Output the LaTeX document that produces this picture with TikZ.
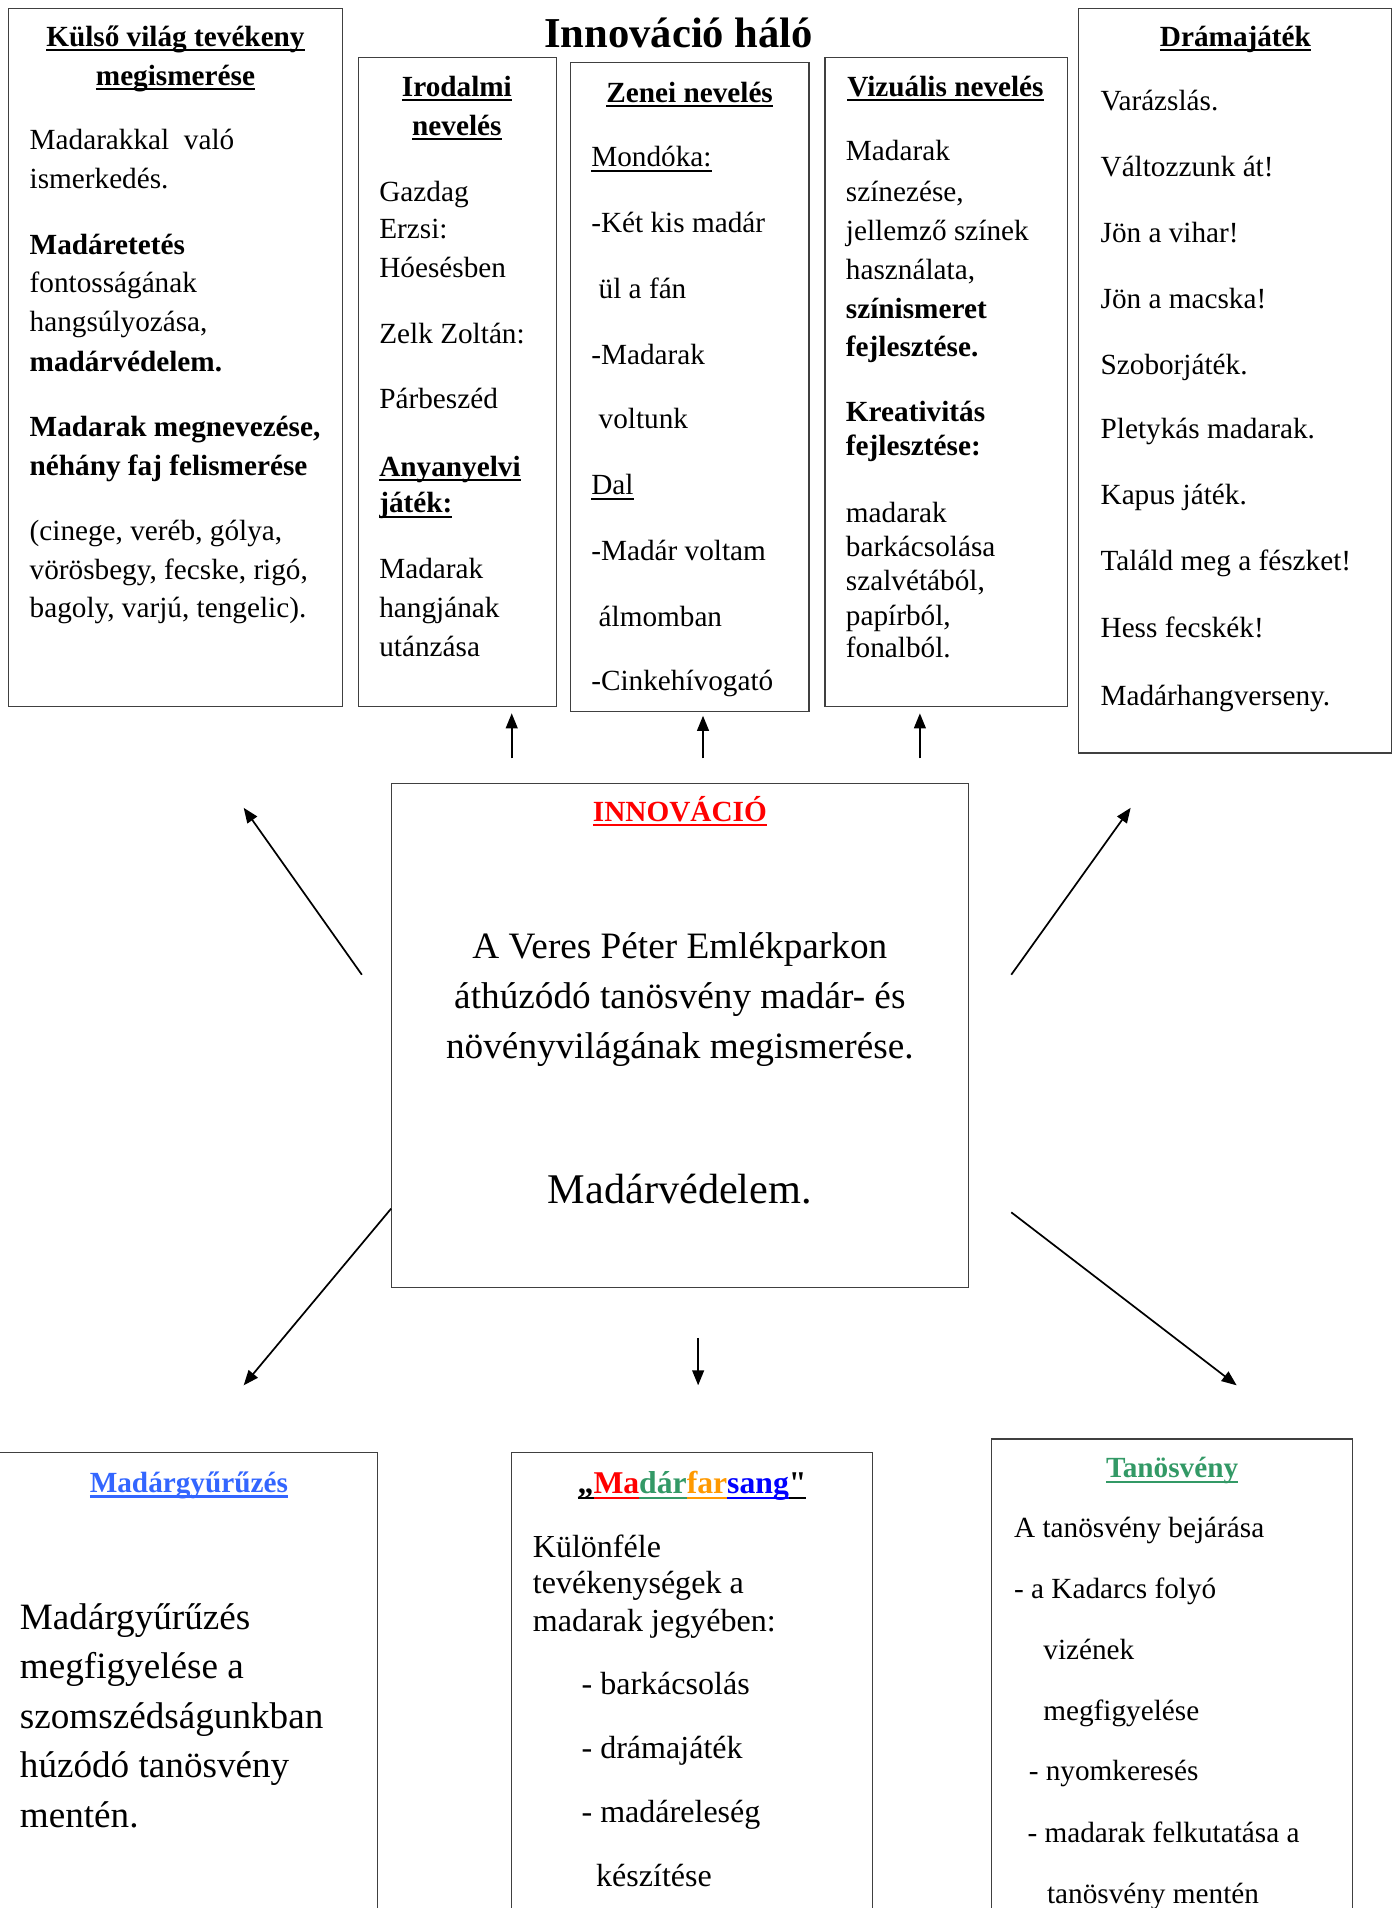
\documentclass[tikz,border=0pt]{standalone}
\usepackage{fontspec}
\setmainfont{Liberation Serif}
\newfontfamily\plainquote{Liberation Serif}[Ligatures=TeXOff]
\usepackage{tikz}
\usetikzlibrary{arrows.meta}
\definecolor{ringblue}{HTML}{3366FF}
\definecolor{trailgreen}{HTML}{339966}
\definecolor{carnorange}{HTML}{FF9900}
\newcommand{\ulx}[2][0.08em]{\setbox0=\hbox{#2}\rlap{\rule[-0.17em]{\wd0}{#1}}\box0}

\begin{document}
\begin{tikzpicture}[x=0.02cm,y=-0.02cm]
\tikzstyle{box}=[rectangle, draw=black!75, line width=0.6pt]
\tikzstyle{body}=[anchor=base west, inner sep=0, font=\fontsize{13.66}{16}\selectfont]
\tikzstyle{hd}=[anchor=base, inner sep=0, font=\fontsize{13.66}{16}\selectfont\bfseries]
\tikzstyle{big}=[anchor=base, inner sep=0, font=\fontsize{17.4}{20}\selectfont]
\tikzstyle{arr}=[-{Triangle[length=7pt,width=5.5pt]}, line width=0.8pt]

\useasboundingbox (0,0) rectangle (1145,1566);
\clip (0,0) rectangle (1145,1566);

\node[anchor=base, inner sep=0, font=\fontsize{19.9}{22}\selectfont\bfseries] (title) at (557,39) {Innováció háló};

% felso dobozok
\node[box, minimum width=5.48cm, minimum height=11.46cm] (kulso) at (144,293.5) {};
\node[box, minimum width=3.26cm, minimum height=10.66cm] (irod) at (375.5,313.5) {};
\node[box, minimum width=3.92cm, minimum height=10.66cm] (zenei) at (566,317.5) {};
\node[box, minimum width=3.98cm, minimum height=10.66cm] (vizu) at (776.5,313.5) {};
\node[box, minimum width=5.14cm, minimum height=12.22cm] (drama) at (1013.5,312.5) {};

\node[hd] (kt1) at (144,38) {\ulx{Külső világ tevékeny}};
\node[hd] (kt2) at (144,70) {\ulx{megismerése}};
\foreach \yy/\tx [count=\i] in {123/{Madarakkal\ \ való}, 155/{ismerkedés.},
  209/{\textbf{Madáretetés}}, 240/{fontosságának}, 272/{hangsúlyozása,}, 305/{\textbf{madárvédelem.}},
  358/{\textbf{Madarak megnevezése,}}, 390/{\textbf{néhány faj felismerése}},
  444/{(cinege, veréb, gólya,}, 476/{vörösbegy, fecske, rigó,}, 507/{bagoly, varjú, tengelic).}}
  \node[body] (ku\i) at (24,\yy) {\tx};

\node[hd] (it1) at (375,79) {\ulx{Irodalmi}};
\node[hd] (it2) at (375,111) {\ulx{nevelés}};
\foreach \yy/\tx [count=\i] in {165/{Gazdag}, 196/{Erzsi:}, 228/{Hóesésben}, 282/{Zelk Zoltán:},
  335/{Párbeszéd}, 391/{\textbf{\ulx{Anyanyelvi}}}, 421/{\textbf{\ulx{játék:}}},
  475/{Madarak}, 507/{hangjának}, 539/{utánzása}}
  \node[body] (ir\i) at (311,\yy) {\tx};

\node[hd] (zt) at (566,84) {\ulx{Zenei nevelés}};
\foreach \xx/\yy/\tx [count=\i] in {485/137/{\ulx[0.05em]{Mondóka:}}, 485/191/{-Két kis madár},
  491/245/{ül a fán}, 485/299/{-Madarak}, 491/352/{voltunk}, 485/406/{\ulx[0.05em]{Dal}},
  485/460/{-Madár voltam}, 491/514/{álmomban}, 485/567/{-Cinkehívogató}}
  \node[body] (ze\i) at (\xx,\yy) {\tx};

\node[hd] (vt) at (776,79) {\ulx{Vizuális nevelés}};
\foreach \yy/\tx [count=\i] in {132/{Madarak}, 165/{színezése,}, 197/{jellemző színek},
  229/{használata,}, 261/{\textbf{színismeret}}, 293/{\textbf{fejlesztése.}},
  346/{\textbf{Kreativitás}}, 374/{\textbf{fejlesztése:}}, 429/{madarak}, 457/{barkácsolása},
  485/{szalvétából,}, 513/{papírból,}, 540/{fonalból.}}
  \node[body] (vi\i) at (694,\yy) {\tx};

\node[hd] (dt) at (1014,38) {\ulx{Drámajáték}};
\foreach \yy/\tx [count=\i] in {91/{Varázslás.}, 145/{Változzunk át!}, 199/{Jön a vihar!},
  253/{Jön a macska!}, 307/{Szoborjáték.}, 360/{Pletykás madarak.}, 414/{Kapus játék.},
  468/{Találd meg a fészket!}, 523/{Hess fecskék!}, 579/{Madárhangverseny.}}
  \node[body] (dr\i) at (903,\yy) {\tx};

% kozepso doboz
\node[box, minimum width=9.48cm, minimum height=8.28cm] (cent) at (558,850) {};
\node[hd, text=red] (ct) at (558,674) {\ulx{INNOVÁCIÓ}};
\node[big] (c1) at (558,787) {A Veres Péter Emlékparkon};
\node[big] (c2) at (558,828) {áthúzódó tanösvény madár- és};
\node[big] (c3) at (558,869) {növényvilágának megismerése.};
\node[big, font=\fontsize{19.75}{22}\selectfont] (c4) at (558,988) {Madárvédelem.};

% nyilak
\coordinate (a1) at (420,0);
\coordinate (a2) at (577,0);
\coordinate (a3) at (755,0);
\draw[arr, shorten <=4mm, shorten >=1mm] (cent.north -| a1) -- (irod.south -| a1);
\draw[arr, shorten <=4mm, shorten >=0.6mm] (cent.north -| a2) -- (zenei.south -| a2);
\draw[arr, shorten <=4mm, shorten >=1mm] (cent.north -| a3) -- (vizu.south -| a3);

\coordinate (tls) at (297,800); \coordinate (tle) at (200,663);
\coordinate (trs) at (830,800); \coordinate (tre) at (928,663);
\coordinate (bls) at (321,992); \coordinate (ble) at (200,1137);
\coordinate (bms) at (573,1098); \coordinate (bme) at (573,1137);
\coordinate (brs) at (830,995); \coordinate (bre) at (1015,1137);
\draw[arr] (tls) -- (tle);
\draw[arr] (trs) -- (tre);
\draw[arr] (bls) -- (ble);
\draw[arr] (bms) -- (bme);
\draw[arr] (brs) -- (bre);

% also dobozok
\node[box, minimum width=6.3cm, minimum height=8.16cm] (gyuru) at (152.5,1396) {};
\node[box, minimum width=5.92cm, minimum height=8.16cm] (farsang) at (568,1396) {};
\node[box, minimum width=5.92cm, minimum height=8.38cm] (tanos) at (962,1390.5) {};

\node[hd, text=ringblue] (gt) at (155,1225) {\ulx{Madárgyűrűzés}};
\foreach \yy/\tx [count=\i] in {1337/{Madárgyűrűzés}, 1378/{megfigyelése a},
  1419/{szomszédságunkban}, 1459/{húzódó tanösvény}, 1500/{mentén.}}
  \node[body, font=\fontsize{17.36}{20}\selectfont] (gy\i) at (16,\yy) {\tx};

\node[hd, font=\fontsize{14.8}{17}\selectfont\bfseries] (ft) at (568,1226)
  {\ulx{„}\textcolor{red}{\ulx{Ma}}\textcolor{trailgreen}{\ulx{dár}}\textcolor{carnorange}{\ulx{far}}\textcolor{blue}{\ulx{sang}}\ulx{\plainquote\bfseries "}};
\foreach \xx/\yy/\tx [count=\i] in {437/1278/{Különféle}, 437/1308/{tevékenységek a},
  437/1339/{madarak jegyében:}, 477/1391/{- barkácsolás}, 477/1443/{- drámajáték},
  477/1496/{- madáreleség}, 489/1548/{készítése}}
  \node[body, font=\fontsize{14.97}{17}\selectfont] (fa\i) at (\xx,\yy) {\tx};

\node[hd, text=trailgreen] (tt) at (962,1213) {\ulx{Tanösvény}};
\foreach \xx/\yy/\tx [count=\i] in {832/1262/{A tanösvény bejárása}, 832/1312/{- a Kadarcs folyó},
  856/1362/{vizének}, 856/1412/{megfigyelése}, 844/1461/{- nyomkeresés},
  843/1512/{- madarak felkutatása a}, 859/1562/{tanösvény mentén}}
  \node[body] (ta\i) at (\xx,\yy) {\tx};
\end{tikzpicture}
\end{document}
